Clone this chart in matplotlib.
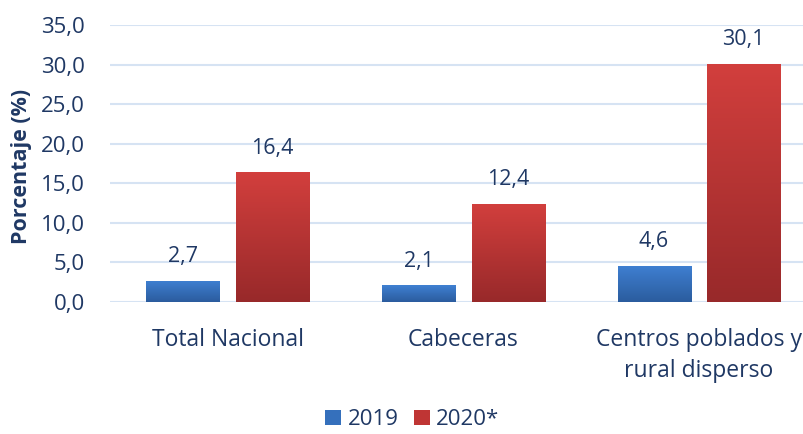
import numpy as np
import matplotlib.pyplot as plt
from matplotlib.patches import Patch
from matplotlib.colors import LinearSegmentedColormap

categorias = ['Total Nacional', 'Cabeceras', 'Centros poblados y\nrural disperso']
v2019 = [2.7, 2.1, 4.6]
v2020 = [16.4, 12.4, 30.1]
series = ['2019', '2020*']

plt.rcParams['font.family'] = ['Open Sans', 'DejaVu Sans']
txt = '#1F3864'

fig = plt.figure(figsize=(8.04, 4.34), dpi=100)
ax = fig.add_axes([0.1368, 0.3041, 0.8788, 0.6383])

x = np.arange(len(categorias))
w = 0.31
off = 0.19

blue = LinearSegmentedColormap.from_list('b', ['#2B5C9E', '#3F80D2'])
red = LinearSegmentedColormap.from_list('r', ['#98292A', '#D23F3D'])
grad = np.linspace(0, 1, 100).reshape(-1, 1)

def gradbars(xs, vals, cmap):
    bars = ax.bar(xs, vals, w, color='none', edgecolor='none', zorder=3)
    for b in bars:
        x0, y0 = b.get_x(), b.get_y()
        im = ax.imshow(grad, cmap=cmap, origin='lower', aspect='auto',
                       extent=[x0, x0 + b.get_width(), y0, y0 + b.get_height()], zorder=3)
        im.set_clip_path(b)
    return bars

b1 = gradbars(x - off, v2019, blue)
b2 = gradbars(x + off, v2020, red)

for bars, vals in [(b1, v2019), (b2, v2020)]:
    for b, v in zip(bars, vals):
        ax.text(b.get_x() + b.get_width() / 2, v + 1.7, f'{v:.1f}'.replace('.', ','),
                ha='center', va='bottom', fontsize=15.5, color=txt)

ax.set_xlim(-0.5, 2.5)
ax.set_ylim(0, 35)
ax.set_yticks(np.arange(0, 36, 5))
ax.set_yticklabels([f'{t:.1f}'.replace('.', ',') for t in np.arange(0, 36, 5)])
ax.set_xticks(x)
ax.set_xticklabels(categorias, linespacing=1.35, fontsize=16.5)
ax.tick_params(axis='both', length=0, labelsize=16, colors=txt)
ax.tick_params(axis='x', labelsize=16.5, pad=19)
ax.tick_params(axis='y', pad=18)
ax.grid(axis='y', color='#D6E3F3', linewidth=1.5, zorder=0)
for s in ax.spines.values():
    s.set_visible(False)
ax.set_ylabel('Porcentaje (%)', fontsize=15.5, fontweight='bold', color=txt)
ax.yaxis.set_label_coords(-0.111, 0.49)

handles = [Patch(facecolor='#3570BC'), Patch(facecolor='#BF3534')]
fig.legend(handles, series, loc='lower center', bbox_to_anchor=(0.513, -0.038), ncol=2,
           frameon=False, fontsize=16, labelcolor=txt, handlelength=0.7, handleheight=0.7,
           handletextpad=0.3, columnspacing=0.7)

fig.savefig('out.png', dpi=100)
